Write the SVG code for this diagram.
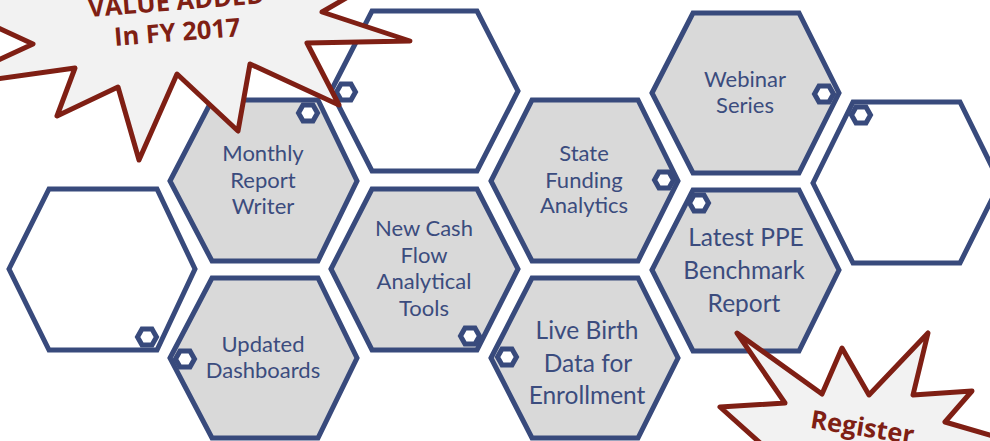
<svg xmlns="http://www.w3.org/2000/svg" width="990" height="441" viewBox="0 0 990 441">
<style>
.hex{stroke:#384a7c;stroke-width:5;stroke-linejoin:miter;fill:#fff}
.g{fill:#d9d9d9}
.dot{fill:#fff;stroke:#384a7c;stroke-width:5}
.t{font-family:Lato,"Open Sans",sans-serif;fill:#3b4c7e;text-anchor:middle;font-size:22px}
.b{font-size:24.5px}
.burst{fill:#f2f2f2;stroke:#7f1f14;stroke-width:5;stroke-linejoin:round}
.bt{font-family:"Open Sans","Noto Sans",sans-serif;font-weight:700;fill:#7f1f14;text-anchor:middle;font-size:25.5px}
</style>
<defs>
<polygon id="d" class="dot" points="-9.5,0 -5,-8 5,-8 9.5,0 5,8 -5,8"/>
</defs>
<g id="hex-empty-left"><polygon class="hex" points="9,269 49,189 157,189 195,269 157,350 49,350"/><use href="#d" x="147" y="337"/></g>
<g id="hex-empty-top"><polygon class="hex" points="331,91 372,11 477,11 518,91 477,171 372,171"/><use href="#d" x="346" y="92"/></g>
<g id="hex-empty-right"><polygon class="hex" points="813,183 853,102 960,102 1000,183 960,263 853,263"/><use href="#d" x="861" y="115"/></g>
<g id="hex-monthly"><polygon class="hex g" points="170,181 212,100 318,100 357,181 318,261 212,261"/><use href="#d" x="308" y="113"/>
<text class="t" x="263" y="161">Monthly</text><text class="t" x="263" y="188">Report</text><text class="t" x="263" y="214">Writer</text></g>
<g id="hex-updated"><polygon class="hex g" points="170,358 212,278 318,278 357,358 318,438 212,438"/><use href="#d" x="185" y="359"/>
<text class="t" x="263" y="352">Updated</text><text class="t" x="263" y="378">Dashboards</text></g>
<g id="hex-cashflow"><polygon class="hex g" points="331,269 372,189 477,189 518,269 477,350 372,350"/><use href="#d" x="470" y="336"/>
<text class="t" x="424" y="236">New Cash</text><text class="t" x="424" y="263">Flow</text><text class="t" x="424" y="289">Analytical</text><text class="t" x="424" y="316">Tools</text></g>
<g id="hex-state"><polygon class="hex g" points="491,181 532,100 638,100 678,181 638,261 532,261"/><use href="#d" x="664" y="180"/>
<text class="t" x="584" y="161">State</text><text class="t" x="584" y="188">Funding</text><text class="t" x="584" y="213">Analytics</text></g>
<g id="hex-livebirth"><polygon class="hex g" points="491,358 532,278 638,278 678,358 638,438 532,438"/><use href="#d" x="507" y="357"/>
<text class="t b" x="587" y="339">Live Birth</text><text class="t b" x="588" y="372">Data for</text><text class="t b" x="587" y="404">Enrollment</text></g>
<g id="hex-webinar"><polygon class="hex g" points="652,93 693,13 799,13 839,93 799,173 693,173"/><use href="#d" x="824" y="94"/>
<text class="t" x="745" y="87">Webinar</text><text class="t" x="745" y="113">Series</text></g>
<g id="hex-latest"><polygon class="hex g" points="652,270 693,190 799,190 839,270 799,351 693,351"/><use href="#d" x="699" y="203"/>
<text class="t b" x="746" y="246">Latest PPE</text><text class="t b" x="744" y="279">Benchmark</text><text class="t b" x="744" y="312">Report</text></g>
<g id="burst-value"><polygon class="burst" points="-10,24 33,44 -10,64 -10,80 75,68 57,116 118,87 139,160 177,74 238,131 250,64 339,105 307,43 410,41 322,12 360,-10 -10,-10"/>
<text class="bt" transform="rotate(-4.5 178 41)" x="178" y="41">In FY 2017</text>
<text class="bt" transform="rotate(-4.5 177 10)" x="177" y="10">VALUE ADDED</text></g>
<g id="burst-register"><polygon class="burst" points="737,333 822,394 842,348 869,395 928,333 913,395 972,391 945,422 1000,438 1000,450 768,450 720,407 785,403"/>
<text class="bt" transform="rotate(9 861 436)" x="861" y="436">Register</text></g>
</svg>
